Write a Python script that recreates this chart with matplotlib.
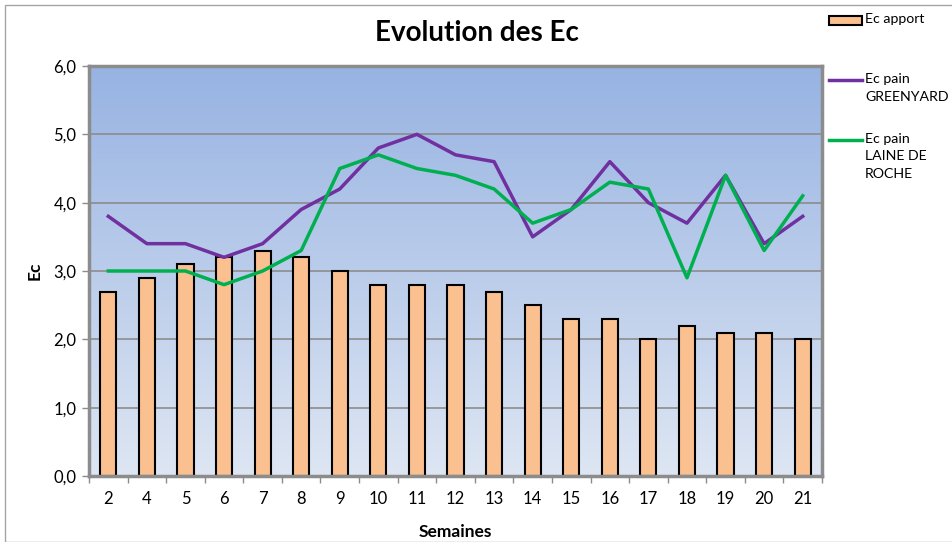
import matplotlib.pyplot as plt
import matplotlib.patches as mpatches
from matplotlib.lines import Line2D
import numpy as np

plt.rcParams['font.family'] = ['Lato', 'DejaVu Sans']

# Données
semaines = ["2", "4", "5", "6", "7", "8", "9", "10", "11", "12", "13",
            "14", "15", "16", "17", "18", "19", "20", "21"]
ec_apport = [2.7, 2.9, 3.1, 3.2, 3.3, 3.2, 3.0, 2.8, 2.8, 2.8, 2.7,
             2.5, 2.3, 2.3, 2.0, 2.2, 2.1, 2.1, 2.0]
ec_greenyard = [3.8, 3.4, 3.4, 3.2, 3.4, 3.9, 4.2, 4.8, 5.0, 4.7, 4.6,
                3.5, 3.9, 4.6, 4.0, 3.7, 4.4, 3.4, 3.8]
ec_laine = [3.0, 3.0, 3.0, 2.8, 3.0, 3.3, 4.5, 4.7, 4.5, 4.4, 4.2,
            3.7, 3.9, 4.3, 4.2, 2.9, 4.4, 3.3, 4.1]
y_ticks = [0, 1, 2, 3, 4, 5, 6]

W, H = 953, 542
fig = plt.figure(figsize=(W / 100, H / 100), dpi=100)
ax = fig.add_axes([89 / W, 1 - 476 / H, (822 - 89) / W, (476 - 66) / H])

x = np.arange(len(semaines))

# fond en dégradé
grad = np.linspace(0, 1, 256).reshape(-1, 1)
top = np.array([0x97, 0xB3, 0xE2]) / 255
bottom = np.array([0xDE, 0xE6, 0xF3]) / 255
img = top + (bottom - top) * grad[:, :, None]
ax.imshow(img, extent=(-0.5, len(x) - 0.5, 0, 6), aspect="auto", zorder=0)

for v in y_ticks[1:-1]:
    ax.axhline(v, color="#8c8c8c", lw=1.2, zorder=1)

ax.bar(x, ec_apport, 0.42, color="#FAC090", edgecolor="black", lw=1.5, zorder=2)
ax.plot(x, ec_greenyard, color="#7030A0", lw=2.5, zorder=3)
ax.plot(x, ec_laine, color="#00B050", lw=2.5, zorder=3)

ax.set_xlim(-0.5, len(x) - 0.5)
ax.set_ylim(0, 6)
ax.set_yticks(y_ticks)
ax.set_yticklabels([f"{v:.1f}".replace(".", ",") for v in y_ticks], fontsize=12)
ax.set_xticks(x)
ax.set_xticklabels(semaines, fontsize=12)
ax.set_xticks(np.arange(len(x) + 1) - 0.5, minor=True)
ax.tick_params(axis="x", which="major", length=0, pad=11)
ax.tick_params(axis="x", which="minor", length=5, color="#8c8c8c", width=1)
ax.tick_params(axis="y", length=5, color="#8c8c8c", width=1, pad=4)
for s in ax.spines.values():
    s.set_color("#8c8c8c")
    s.set_linewidth(2.5)

ax.set_xlabel("Semaines", fontsize=12.5, fontweight="bold", labelpad=12)
ax.set_ylabel("Ec", fontsize=12.5, fontweight="bold", labelpad=8)
fig.text(477 / W, 1 - 33 / H, "Evolution des Ec", ha="center", va="center",
         fontsize=20, fontweight="bold")

# cadre extérieur
fig.add_artist(mpatches.Rectangle((5 / W, 0), 1.2, 1 - 5 / H, transform=fig.transFigure,
                                  fill=False, edgecolor="#a6a6a6", lw=1))

# légende (construite à la main pour aligner sur la première ligne)
def fy(py):
    return 1 - py / H

fig.add_artist(mpatches.Rectangle((829 / W, fy(25)), 33 / W, 9 / H, transform=fig.transFigure,
                                  facecolor="#FAC090", edgecolor="black", lw=1.5))
fig.add_artist(Line2D([829 / W, 862 / W], [fy(80), fy(80)], transform=fig.transFigure,
                      color="#7030A0", lw=2.5))
fig.add_artist(Line2D([829 / W, 862 / W], [fy(140), fy(140)], transform=fig.transFigure,
                      color="#00B050", lw=2.5))
leg_labels = ["Ec apport", "Ec pain\nGREENYARD", "Ec pain\nLAINE DE\nROCHE"]
for lab, py in zip(leg_labels, [20, 80, 140]):
    fig.text(865 / W, fy(py - 7), lab, ha="left", va="top", fontsize=10.2,
             linespacing=1.55)

fig.savefig("out.png", dpi=100)
